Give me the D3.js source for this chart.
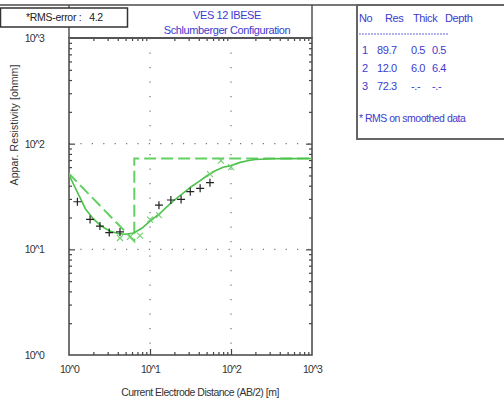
<!DOCTYPE html>
<html>
<head>
<meta charset="utf-8">
<script src="https://cdn.jsdelivr.net/npm/d3@7"></script>
<style>
body { margin: 0; background: #fff; }
text { font-family: "Liberation Sans", Arial, sans-serif; }
</style>
</head>
<body>
<div class="container"></div>
<script>
// field data (AB/2 [m], apparent resistivity [ohmm])
var obsAB = [1.27, 1.82, 2.41, 3.14, 4.26, 12.9, 18.1, 24.2, 31.4, 41.6, 55.0];
var obsRho = [28.2, 19.2, 16.6, 14.4, 14.6, 26.2, 29.3, 29.7, 35.1, 37.8, 42.7];

// smoothed data
var smoothAB = [4.26, 5.66, 7.52, 10.0, 12.9, 55.0, 75.0, 100];
var smoothRho = [12.8, 13.1, 13.5, 19.1, 21.1, 51.6, 69.2, 60.1];

// calculated curve
var curveAB = [1, 1.25, 1.6, 2, 2.5, 3.2, 4, 5, 6.3, 8, 10, 13, 16, 20, 25, 32, 40, 50, 63, 80, 100, 130, 160, 200, 320, 500, 1000];
var curveRho = [50.5, 35.6, 24.1, 19.4, 16.6, 14.9, 14.1, 13.9, 14.3, 15.9, 18.5, 21.6, 25.1, 29.3, 33.4, 38.9, 43.8, 49.4, 55.1, 59.8, 62.0, 66.5, 69.0, 70.8, 72.0, 72.2, 72.3];

// layer model
var layerNo = ['1', '2', '3'];
var layerRes = ['89.7', '12.0', '72.3'];
var layerThick = ['0.5', '6.0', '-.-'];
var layerDepth = ['0.5', '6.4', '-.-'];

var xTickVals = [1, 10, 100, 1000];
var xTickLabels = ['10^0', '10^1', '10^2', '10^3'];
var yTickVals = [1, 10, 100, 1000];
var yTickLabels = ['10^0', '10^1', '10^2', '10^3'];

const WIDTH = 504;
const HEIGHT = 403;
const LEFT = 69, RIGHT = 312, TOP = 38, BOTTOM = 355;
const GREEN = '#4cc24c';
const BLUE = '#3c3ccf';

var svg = d3.select('.container').append('svg')
	.attr('width', WIDTH)
	.attr('height', HEIGHT);

var x = d3.scaleLog().domain([1, 1000]).range([LEFT, RIGHT]);
var y = d3.scaleLog().domain([1, 1000]).range([BOTTOM, TOP]);

// minor tick values
var minor = [];
[1, 10, 100].forEach(function(d){
	for (var k = 2; k <= 9; k++) minor.push(d * k);
});

// outer frame lines
svg.append('line').attr('x1', 0).attr('x2', 356).attr('y1', 5).attr('y2', 5)
	.attr('stroke', '#777').attr('stroke-width', 2);
svg.append('line').attr('x1', LEFT).attr('x2', LEFT).attr('y1', 5).attr('y2', TOP)
	.attr('stroke', '#555').attr('stroke-width', 1.5);
svg.append('line').attr('x1', RIGHT).attr('x2', RIGHT).attr('y1', 5).attr('y2', TOP)
	.attr('stroke', '#555').attr('stroke-width', 1.5);

// grid
var grid = svg.append('g');
grid.selectAll('.gx').data([10, 100]).enter().append('line')
	.attr('x1', function(d){ return x(d); }).attr('x2', function(d){ return x(d); })
	.attr('y1', TOP).attr('y2', BOTTOM)
	.attr('stroke', '#777').attr('stroke-width', 1.2)
	.attr('stroke-dasharray', '1.2,13.3');
grid.selectAll('.gy').data([10, 100]).enter().append('line')
	.attr('x1', LEFT).attr('x2', RIGHT)
	.attr('y1', function(d){ return y(d); }).attr('y2', function(d){ return y(d); })
	.attr('stroke', '#777').attr('stroke-width', 1.2)
	.attr('stroke-dasharray', '1.2,10.2');

// axes: minor and major ticks on all four sides
function tickAxis(axis, vals, size, tx, ty){
	svg.append('g')
		.attr('transform', 'translate(' + tx + ',' + ty + ')')
		.call(axis.tickValues(vals).tickSize(size).tickFormat(''))
		.call(function(g){
			g.select('.domain').remove();
			g.selectAll('line').attr('stroke', '#444').attr('stroke-width', 1.2);
		});
}
tickAxis(d3.axisTop(x), minor, 3, 0, BOTTOM);
tickAxis(d3.axisTop(x), [10, 100], 6, 0, BOTTOM);
tickAxis(d3.axisBottom(x), minor, 3, 0, TOP);
tickAxis(d3.axisRight(y), minor, 3, LEFT, 0);
tickAxis(d3.axisRight(y), [10, 100], 6, LEFT, 0);
tickAxis(d3.axisLeft(y), minor, 3, RIGHT, 0);
tickAxis(d3.axisLeft(y), [10, 100], 6, RIGHT, 0);

// tick labels
svg.append('g')
	.attr('transform', 'translate(0,' + (BOTTOM + 11) + ')')
	.call(d3.axisBottom(x).tickValues(xTickVals).tickSize(0).tickPadding(0)
		.tickFormat(function(d, i){ return xTickLabels[i]; }))
	.call(function(g){
		g.select('.domain').remove();
		g.selectAll('text').attr('fill', '#333').style('font-size', '10.5px')
			.style('letter-spacing', '-0.8px');
	});
svg.append('g')
	.attr('transform', 'translate(44,0)')
	.call(d3.axisLeft(y).tickValues(yTickVals).tickSize(0).tickPadding(0)
		.tickFormat(function(d, i){ return yTickLabels[i]; }))
	.call(function(g){
		g.select('.domain').remove();
		g.selectAll('text').attr('fill', '#333').style('font-size', '10.5px')
			.style('letter-spacing', '-0.8px');
	});

// plot frame
svg.append('rect')
	.attr('x', LEFT).attr('y', TOP)
	.attr('width', RIGHT - LEFT).attr('height', BOTTOM - TOP)
	.attr('fill', 'none').attr('stroke', '#444').attr('stroke-width', 1.5);
svg.append('line').attr('x1', LEFT).attr('x2', RIGHT).attr('y1', TOP).attr('y2', TOP)
	.attr('stroke', '#555').attr('stroke-width', 2);

// clip
svg.append('clipPath').attr('id', 'clip').append('rect')
	.attr('x', LEFT).attr('y', TOP).attr('width', RIGHT - LEFT).attr('height', BOTTOM - TOP);
var plot = svg.append('g').attr('clip-path', 'url(#clip)');

var line = d3.line()
	.x(function(d){ return x(d[0]); })
	.y(function(d){ return y(d[1]); });

// model (dashed)
var modelPts = [
	[+layerDepth[0], +layerRes[0]],
	[+layerDepth[1], +layerRes[1]],
	[+layerDepth[1], +layerRes[2]],
	[1000, +layerRes[2]]
];
plot.append('path')
	.attr('d', line(modelPts))
	.attr('fill', 'none').attr('stroke', '#62d062').attr('stroke-width', 2)
	.attr('stroke-dasharray', '12,5');

// calculated curve
plot.append('path')
	.attr('d', line(curveAB.map(function(d, i){ return [d, curveRho[i]]; })))
	.attr('fill', 'none').attr('stroke', GREEN).attr('stroke-width', 1.6);

// smoothed data x
plot.selectAll('.sm').data(smoothAB).enter().append('path')
	.attr('transform', function(d, i){ return 'translate(' + x(d) + ',' + y(smoothRho[i]) + ')'; })
	.attr('d', 'M-3,-3L3,3M-3,3L3,-3')
	.attr('stroke', '#6fd06f').attr('stroke-width', 1.1);

// field data +
plot.selectAll('.ob').data(obsAB).enter().append('path')
	.attr('transform', function(d, i){ return 'translate(' + x(d) + ',' + y(obsRho[i]) + ')'; })
	.attr('d', 'M-4,0L4,0M0,-4L0,4')
	.attr('stroke', '#222').attr('stroke-width', 1.2);

// title
svg.append('text').attr('x', 227).attr('y', 19).attr('text-anchor', 'middle')
	.attr('fill', BLUE).style('font-size', '11px').style('letter-spacing', '-0.4px')
	.text('VES 12 IBESE');
svg.append('text').attr('x', 227).attr('y', 34).attr('text-anchor', 'middle')
	.attr('fill', BLUE).style('font-size', '11px').style('letter-spacing', '-0.4px')
	.text('Schlumberger Configuration');

// rms box
svg.append('rect').attr('x', 0.5).attr('y', 8).attr('width', 127).attr('height', 19)
	.attr('fill', '#fff').attr('stroke', '#333').attr('stroke-width', 1.5);
svg.append('text').attr('x', 26).attr('y', 21)
	.attr('fill', '#222').style('font-size', '10.5px').style('letter-spacing', '-0.3px')
	.style('white-space', 'pre')
	.text('*RMS-error :   4.2');

// axis titles
svg.append('text')
	.attr('transform', 'translate(18,125) rotate(-90)')
	.attr('text-anchor', 'middle').attr('fill', '#333')
	.style('font-size', '10.5px').style('letter-spacing', '0.1px')
	.text('Appar. Resistivity [ohmm]');
svg.append('text').attr('x', 200).attr('y', 396).attr('text-anchor', 'middle')
	.attr('fill', '#333').style('font-size', '10.5px').style('letter-spacing', '-0.5px')
	.text('Current Electrode Distance (AB/2) [m]');

// layer table panel
var panel = svg.append('g');
panel.append('rect').attr('x', 357).attr('y', 5).attr('width', 150).attr('height', 134)
	.attr('fill', '#fff').attr('stroke', '#666').attr('stroke-width', 2);
var colX = [359, 385, 413, 445];
var hdr = ['No', 'Res', 'Thick', 'Depth'];
panel.selectAll('.hd').data(hdr).enter().append('text')
	.attr('x', function(d, i){ return colX[i]; }).attr('y', 22)
	.attr('fill', BLUE).style('font-size', '11px').style('letter-spacing', '-0.4px')
	.text(function(d){ return d; });
panel.append('line').attr('x1', 359).attr('x2', 448).attr('y1', 34).attr('y2', 34)
	.attr('stroke', BLUE).attr('stroke-width', 0.8).attr('stroke-dasharray', '2,1');
var rowY = [54, 72, 90];
var cellX = [362, 377, 411, 432];
layerNo.forEach(function(n, i){
	var row = [n, layerRes[i], layerThick[i], layerDepth[i]];
	panel.selectAll('.r' + i).data(row).enter().append('text')
		.attr('x', function(d, j){ return cellX[j]; }).attr('y', rowY[i])
		.attr('fill', BLUE).style('font-size', '11px').style('letter-spacing', '-0.4px')
		.text(function(d){ return d; });
});
panel.append('text').attr('x', 359).attr('y', 122)
	.attr('fill', BLUE).style('font-size', '10.5px').style('letter-spacing', '-0.5px')
	.text('* RMS on smoothed data');
</script>
</body>
</html>
